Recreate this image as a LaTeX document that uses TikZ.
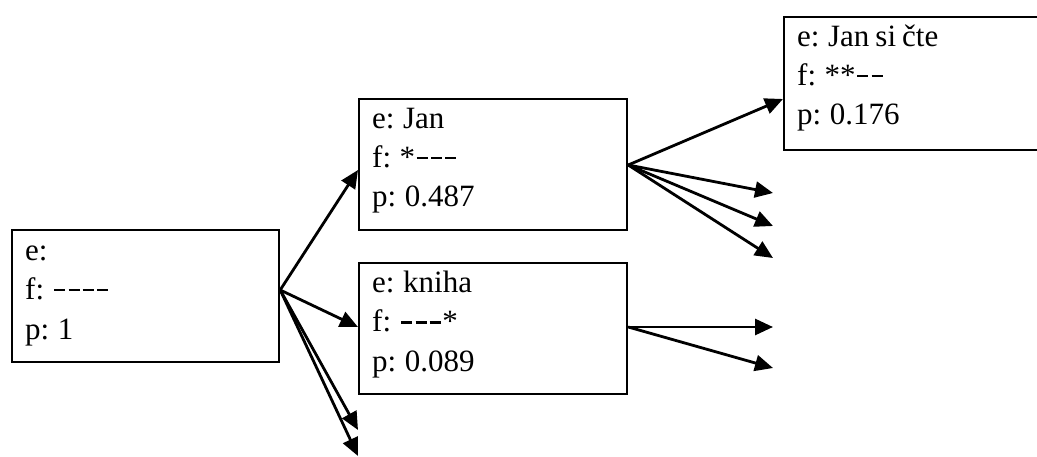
\documentclass[tikz,border=0pt]{standalone}
\usepackage{fontspec}
\setmainfont{Liberation Serif}
\usetikzlibrary{arrows.meta,calc}
\newcommand\dsh{\kern1.6pt\rule[8.5pt]{11pt}{2.2pt}\kern1.6pt}
\newcommand\boxfont{\fontsize{31}{36}\selectfont\spaceskip 6pt\relax}
\begin{document}
\begin{tikzpicture}[x=1pt,y=-1pt,
  box/.style={draw,line width=2.2pt,anchor=north west,inner sep=0pt},
  txt/.style={anchor=base west,inner sep=0pt,font=\boxfont},
  arr/.style={line width=2.8pt,-{Triangle[length=18pt,width=16pt]}}]
\useasboundingbox (0,0) rectangle (1037,457);
% boxes
\node[box,minimum width=267pt,minimum height=132pt] (root) at (11,229) {};
\node[box,minimum width=268pt,minimum height=131pt] (jan) at (358,98) {};
\node[box,minimum width=268pt,minimum height=131pt] (kniha) at (358,262) {};
\node[box,minimum width=300pt,minimum height=133pt] (jsc) at (783,16) {};
% texts
\node[txt] (root-e) at ($(root.north west)+(14,32)$) {e:};
\node[txt] (root-f) at ($(root.north west)+(14,71)$) {f: \dsh\dsh\dsh\dsh};
\node[txt] (root-p) at ($(root.north west)+(14,110)$) {p: 1};
\node[txt] (jan-e) at ($(jan.north west)+(14,31)$) {e: Jan};
\node[txt] (jan-f) at ($(jan.north west)+(14,70)$) {f: *\dsh\dsh\dsh};
\node[txt] (jan-p) at ($(jan.north west)+(14,109)$) {p: 0.487};
\node[txt] (kniha-e) at ($(kniha.north west)+(14,31)$) {e: kniha};
\node[txt] (kniha-f) at ($(kniha.north west)+(14,70)$) {f: \dsh\dsh\dsh*};
\node[txt] (kniha-p) at ($(kniha.north west)+(14,109)$) {p: 0.089};
\node[txt] (jsc-e) at ($(jsc.north west)+(14,31)$) {e: Jan si čte};
\node[txt] (jsc-f) at ($(jsc.north west)+(14,70)$) {f: **\dsh\dsh};
\node[txt] (jsc-p) at ($(jsc.north west)+(14,109)$) {p: 0.176};
% connector points
\coordinate (rs) at ($(root.north east)+(0,61)$);
\coordinate (js) at ($(jan.north east)+(0,67)$);
\coordinate (ks) at ($(kniha.north east)+(0,65)$);
\coordinate (r3) at (358,430);
\coordinate (r4) at (358,456);
\coordinate (j2) at (773,193);
\coordinate (j3) at (773,226);
\coordinate (j4) at (773,258);
\coordinate (k1) at (773,327);
\coordinate (k2) at (773,368);
% connectors
\draw[arr] (rs) -- ($(jan.north west)+(0,72)$);
\draw[arr] (rs) -- ($(kniha.north west)+(0,65)$);
\draw[arr] (rs) -- (r3);
\draw[arr] (rs) -- (r4);
\draw[arr] (js) -- ($(jsc.north west)+(0,83)$);
\draw[arr] (js) -- (j2);
\draw[arr] (js) -- (j3);
\draw[arr] (js) -- (j4);
\draw[arr] (ks) -- (k1);
\draw[arr] (ks) -- (k2);
\end{tikzpicture}
\end{document}
